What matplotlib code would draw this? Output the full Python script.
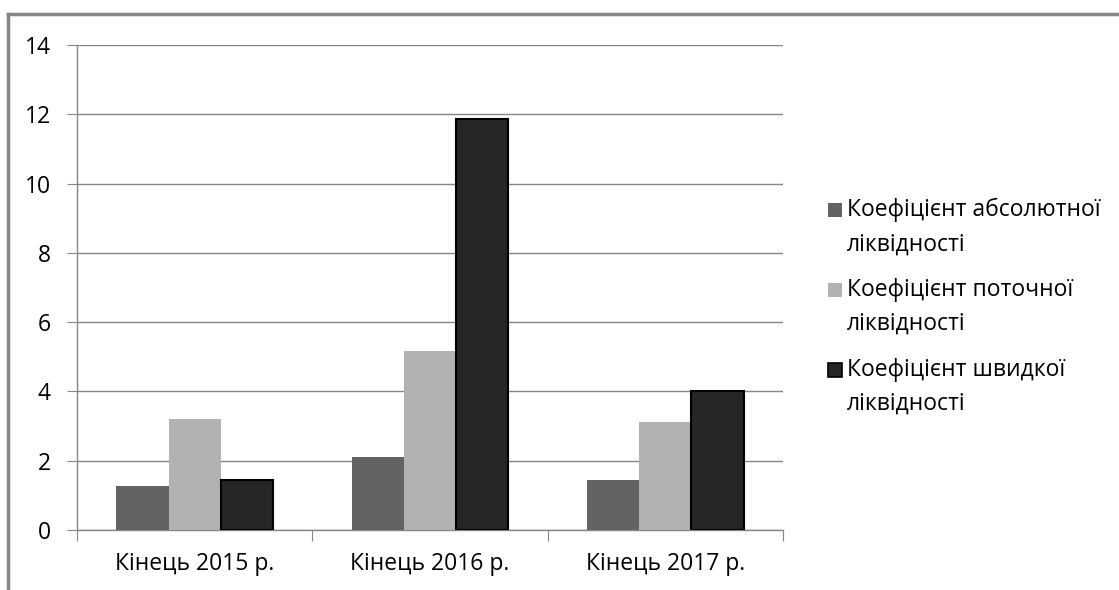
import matplotlib
matplotlib.use("Agg")
import matplotlib.pyplot as plt
from matplotlib.lines import Line2D
from matplotlib.patches import Rectangle
import numpy as np

plt.rcParams['font.family'] = ['Open Sans', 'DejaVu Sans']

categories = ["Кінець 2015 р.", "Кінець 2016 р.", "Кінець 2017 р."]
series_names = ["Коефіцієнт абсолютної\nліквідності",
                "Коефіцієнт поточної\nліквідності",
                "Коефіцієнт швидкої\nліквідності"]
absolute = [1.27, 2.1, 1.44]
current = [3.2, 5.16, 3.12]
quick = [1.44, 11.85, 4.0]
colors = ["#636363", "#b2b2b2", "#262626"]
edges = ["#636363", "#b2b2b2", "#000000"]

W, H = 1119, 590
fig = plt.figure(figsize=(W / 100, H / 100), dpi=100)
ax = fig.add_axes([77 / W, 1 - 530 / H, (783 - 77) / W, (530 - 45) / H])

x = np.arange(len(categories))
w = 1 / 4.5
for i, vals in enumerate([absolute, current, quick]):
    ax.bar(x + (i - 1) * w, vals, w, color=colors[i], edgecolor=edges[i],
           linewidth=1.5 if i == 2 else 0, zorder=3)

ax.set_xlim(-0.5, 2.5)
ax.set_ylim(0, 14)
ax.set_yticks(range(0, 15, 2))
ax.yaxis.grid(True, color="#868686", linewidth=1, zorder=0)
ax.set_xticks([-0.5, 0.5, 1.5, 2.5])
ax.set_xticklabels([])
ax.set_xticks(x, minor=True)
ax.set_xticklabels(categories, minor=True, fontsize=16.5)
ax.tick_params(axis='x', which='minor', length=0, pad=16)
ax.tick_params(axis='x', which='major', length=8, color="#868686", direction='out')
ax.tick_params(axis='y', length=7, color="#868686", labelsize=16.5, pad=12)
for s in ["top", "right"]:
    ax.spines[s].set_visible(False)
for s in ["left", "bottom"]:
    ax.spines[s].set_color("#868686")
    ax.spines[s].set_linewidth(1)

# legend drawn by hand: square aligned with the first text line
for i, name in enumerate(series_names):
    yc = 210 + 80 * i
    fig.add_artist(Rectangle((828 / W, 1 - (yc + 7) / H), 14 / W, 14 / H,
                             facecolor=colors[i], edgecolor=edges[i],
                             linewidth=1.2 if i == 2 else 0,
                             transform=fig.transFigure))
    fig.text(847 / W, 1 - (yc - 12) / H, name, fontsize=16.5, va="top", ha="left",
             linespacing=1.55)

# outer frame
fig.add_artist(Line2D([8 / W, 1.0], [1 - 14 / H, 1 - 14 / H], color="#868686",
                      linewidth=2.5, transform=fig.transFigure))
fig.add_artist(Line2D([8 / W, 8 / W], [0.0, 1 - 14 / H], color="#868686",
                      linewidth=2.5, transform=fig.transFigure))

fig.savefig("out.png", dpi=100)
